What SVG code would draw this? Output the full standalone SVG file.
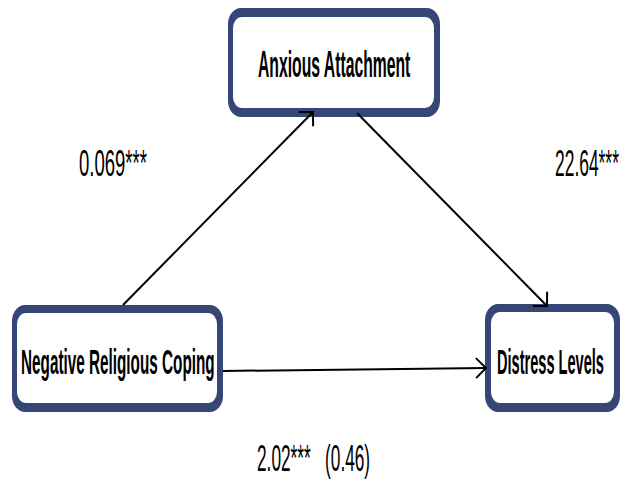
<svg xmlns="http://www.w3.org/2000/svg" width="622" height="479" viewBox="0 0 622 479">
<style>
.outer{fill:#364677}
.inner{fill:#ffffff}
.lbl{font-family:"Liberation Sans",Arial,sans-serif;font-weight:bold;font-size:36px;fill:#000}
.num{font-family:"Liberation Sans",Arial,sans-serif;font-size:37px;fill:#000}
.conn{stroke:#000;stroke-width:2;fill:none}
</style>
<defs>
<marker id="arr" markerUnits="userSpaceOnUse" markerWidth="30" markerHeight="30" viewBox="-15 -15 30 30" refX="0" refY="0" orient="auto">
<path d="M -10 -10 L 0 0 L -10 10" fill="none" stroke="#000" stroke-width="2"/>
</marker>
</defs>
<rect width="622" height="479" fill="#ffffff"/>
<g id="anxious-attachment">
<rect class="outer" x="228" y="8" width="212" height="109" rx="13" ry="16"/>
<rect class="inner" x="233" y="17" width="201" height="91" rx="9" ry="11"/>
<text class="lbl" transform="translate(258 77) scale(0.437 1)">Anxious Attachment</text>
</g>
<g id="negative-religious-coping">
<rect class="outer" x="12" y="305" width="211" height="107" rx="13" ry="16"/>
<rect class="inner" x="17" y="313" width="200" height="90" rx="9" ry="11"/>
<text class="lbl" transform="translate(21 374) scale(0.425 1)">Negative Religious Coping</text>
</g>
<g id="distress-levels">
<rect class="outer" x="485" y="304" width="135" height="108" rx="13" ry="16"/>
<rect class="inner" x="491" y="312" width="123" height="91" rx="9" ry="11"/>
<text class="lbl" transform="translate(497 374) scale(0.405 1)">Distress Levels</text>
</g>
<g id="connectors">
<line class="conn" x1="123" y1="305" x2="313" y2="112" marker-end="url(#arr)"/>
<line class="conn" x1="357" y1="113" x2="547" y2="306" marker-end="url(#arr)"/>
<line class="conn" x1="223" y1="371" x2="486" y2="368" marker-end="url(#arr)"/>
</g>
<g id="labels">
<text class="num" transform="translate(79 176) scale(0.5 1)">0.069***</text>
<text class="num" transform="translate(555 176) scale(0.471 1)">22.64***</text>
<text class="num" transform="translate(257 471) scale(0.466 1)" xml:space="preserve">2.02***   (0.46)</text>
</g>
</svg>
